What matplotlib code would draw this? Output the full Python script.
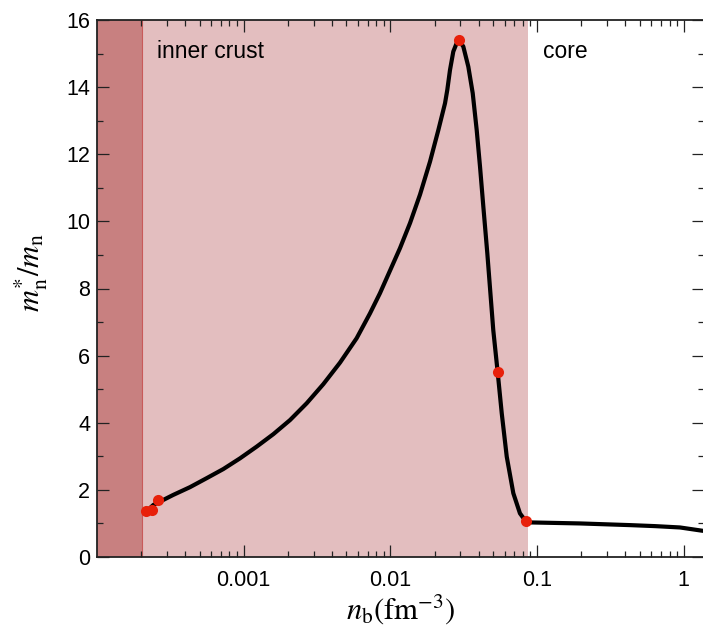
import numpy as np
import matplotlib
matplotlib.use('Agg')
import matplotlib.pyplot as plt
from matplotlib.ticker import LogLocator, MultipleLocator, FixedLocator, FixedFormatter, NullFormatter

plt.rcParams['font.family'] = ['Liberation Sans', 'DejaVu Sans']
plt.rcParams['mathtext.fontset'] = 'stix'

# effective mass curve
n_b = [2.20e-4, 2.42e-4, 3.31e-4, 4.30e-4, 5.60e-4, 7.26e-4, 9.44e-4, 1.227e-3,
       1.592e-3, 2.069e-3, 2.687e-3, 3.489e-3, 4.532e-3, 5.890e-3, 7.261e-3,
       8.49e-3, 0.01162, 0.01361, 0.01592, 0.01862, 0.02122, 0.02357, 0.02443,
       0.02548, 0.02684, 0.02829, 0.02950, 0.03140, 0.03397, 0.03640, 0.03875,
       0.04082, 0.04300, 0.04577, 0.05026, 0.05387, 0.05741, 0.06209, 0.06885,
       0.07641, 0.08359, 0.0900, 0.1959, 0.4295, 0.637, 0.9419, 1.349]
m_ratio = [1.38, 1.55, 1.85, 2.08, 2.35, 2.62, 2.94, 3.29,
           3.66, 4.08, 4.58, 5.15, 5.79, 6.52, 7.26,
           7.86, 9.20, 9.95, 10.80, 11.78, 12.72, 13.52, 13.92,
           14.51, 15.06, 15.31, 15.38, 15.21, 14.61, 13.82, 12.72,
           11.63, 10.44, 9.05, 6.76, 5.50, 4.28, 2.99, 1.90,
           1.30, 1.07, 1.03, 1.00, 0.95, 0.92, 0.88, 0.78]

# red markers
dot_n = [2.16e-4, 2.36e-4, 2.62e-4, 0.0295, 0.0538, 0.0836]
dot_m = [1.37, 1.40, 1.70, 15.41, 5.50, 1.07]

# region boundaries
n_min = 1e-4
n_outer = 2.03e-4
n_core = 0.0866
n_max = 1.373

xticks = [0.001, 0.01, 0.1, 1]
xticklabels = ['0.001', '0.01', '0.1', '1']

fig = plt.figure(figsize=(7.03, 6.31), dpi=100)
ax = fig.add_axes([97/703, 74/631, 607/703, 537/631])

ax.axvspan(n_min, n_outer, color='#c88080', lw=0, zorder=0)
ax.axvspan(n_outer, n_core, color='#e3bebf', lw=0, zorder=0)
ax.axvline(n_outer, color='#c85a5a', lw=0.8, zorder=0.5)

ax.plot(n_b, m_ratio, color='black', lw=3.0, zorder=3,
        solid_capstyle='round', solid_joinstyle='round')
ax.plot(dot_n, dot_m, 'o', color='#e8200a', ms=8, mec='none', zorder=4)

ax.set_xscale('log')
ax.set_xlim(n_min, n_max)
ax.set_ylim(0, 16)

ax.xaxis.set_major_locator(FixedLocator(xticks))
ax.xaxis.set_major_formatter(FixedFormatter(xticklabels))
ax.xaxis.set_minor_locator(LogLocator(base=10, subs=np.arange(2, 10), numticks=20))
ax.xaxis.set_minor_formatter(NullFormatter())
ax.yaxis.set_major_locator(MultipleLocator(2))
ax.yaxis.set_minor_locator(MultipleLocator(1))

ax.tick_params(which='both', direction='in', top=True, right=True, colors='#222222',
               labelcolor='black', labelsize=15.5)
ax.tick_params(which='major', length=8.5, width=0.9)
ax.tick_params(which='minor', length=4, width=0.9)
ax.tick_params(axis='x', which='major', pad=9)
ax.tick_params(axis='y', which='major', pad=5)

for s in ax.spines.values():
    s.set_linewidth(1.3)
    s.set_color('#222222')

ax.text(2.57e-4, 15.05, 'inner crust', fontsize=16.5, va='center', ha='left')
ax.text(0.1096, 15.05, 'core', fontsize=16.5, va='center', ha='left')

ax.set_xlabel(r'$n_{\rm b}({\rm fm}^{-3})$', fontsize=22, labelpad=1)
ax.set_ylabel(r'$m_{\rm n}^{*}/m_{\rm n}$', fontsize=22)
ax.yaxis.set_label_coords(-0.077, 0.53)

fig.savefig('out.png', dpi=100)
